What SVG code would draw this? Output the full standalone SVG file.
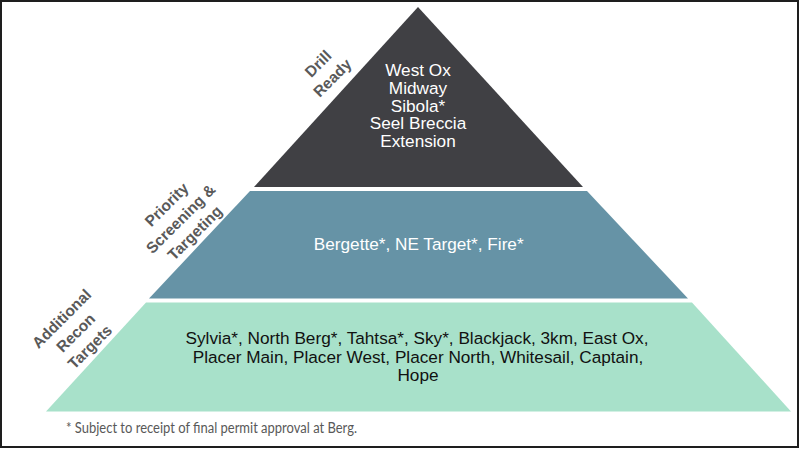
<svg xmlns="http://www.w3.org/2000/svg" width="800" height="449" viewBox="0 0 800 449">
<style>
.t{font-family:"Liberation Sans",Arial,sans-serif;font-size:17.2px;text-anchor:middle}
.w{fill:#ffffff}
.k{fill:#111111}
.side{font-family:"Liberation Sans",Arial,sans-serif;font-size:15.5px;font-weight:bold;fill:#595959;text-anchor:middle}
.note{font-family:Lato,"Open Sans",sans-serif;font-size:15.5px;fill:#595959}
</style>
<rect x="0" y="0" width="800" height="449" fill="#ffffff"/>
<rect x="1" y="1" width="797" height="446" fill="none" stroke="#1e1e1e" stroke-width="2"/>
<g id="connectors"></g>
<g id="tier-drill-ready">
<polygon points="418,7 583,187 254,187" fill="#404044"/>
<text class="t w" x="418" y="76">West Ox</text>
<text class="t w" x="418" y="93.5">Midway</text>
<text class="t w" x="418" y="111.5">Sibola*</text>
<text class="t w" x="418" y="129.3">Seel Breccia</text>
<text class="t w" x="418" y="146.8">Extension</text>
<g transform="translate(325.5,71) rotate(-45)">
<text class="side" x="0" y="-5">Drill</text>
<text class="side" x="0" y="15">Ready</text>
</g>
</g>
<g id="tier-priority">
<polygon points="250,191 587,191 688,298.5 149,298.5" fill="#6693A6"/>
<text class="t w" x="418.7" y="250">Bergette*, NE Target*, Fire*</text>
<g transform="translate(181,219) rotate(-45)">
<text class="side" x="0" y="-15">Priority</text>
<text class="side" x="0" y="5">Screening &amp;</text>
<text class="side" x="0" y="25">Targeting</text>
</g>
</g>
<g id="tier-additional">
<polygon points="146,302.5 692,302.5 791,411.5 46,411.5" fill="#A8E1CA"/>
<text class="t k" x="417" y="344.3">Sylvia*, North Berg*, Tahtsa*, Sky*, Blackjack, 3km, East Ox,</text>
<text class="t k" x="418" y="362.7">Placer Main, Placer West, Placer North, Whitesail, Captain,</text>
<text class="t k" x="418" y="380.5">Hope</text>
<g transform="translate(76,333) rotate(-45)">
<text class="side" x="0" y="-15">Additional</text>
<text class="side" x="0" y="5">Recon</text>
<text class="side" x="0" y="25">Targets</text>
</g>
</g>
<text class="note" x="66" y="433" textLength="291" lengthAdjust="spacingAndGlyphs">* Subject to receipt of final permit approval at Berg.</text>
</svg>
